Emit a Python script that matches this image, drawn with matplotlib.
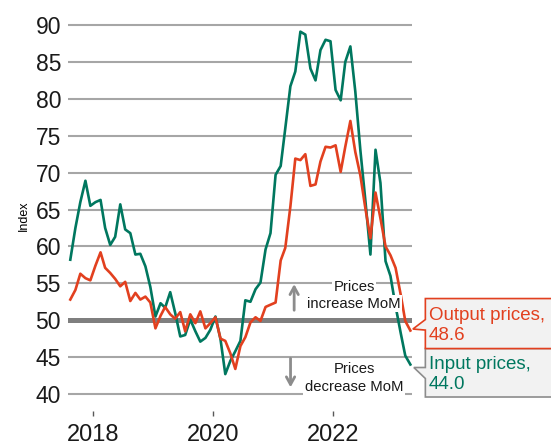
import matplotlib
matplotlib.use("Agg")
import matplotlib.pyplot as plt
import matplotlib.transforms as mtransforms
from matplotlib.patches import Polygon
import pandas as pd

plt.rcParams['font.family'] = ['Liberation Sans', 'DejaVu Sans']

# monthly index readings, Aug 2017 - Apr 2023
months = pd.date_range('2017-08-01', periods=69, freq='MS') + pd.Timedelta(days=14)
input_prices = [58.2, 62.5, 66.0, 68.9, 65.5, 66.0, 66.3, 62.5, 60.2, 61.3,
                65.7, 62.3, 61.8, 58.9, 59.0, 57.3, 54.5, 50.5, 52.3, 51.7,
                53.8, 51.0, 47.8, 48.0, 50.1, 48.5, 47.1, 47.6, 48.7, 50.5,
                47.4, 42.7, 44.5, 45.8, 47.2, 52.7, 52.5, 54.2, 55.1, 59.6,
                61.8, 69.7, 70.9, 76.0, 81.7, 83.7, 89.1, 88.7, 84.1, 82.5,
                86.6, 88.0, 87.8, 81.2, 79.8, 85.0, 87.1, 81.0, 73.0, 66.3,
                58.9, 73.1, 68.6, 58.0, 56.0, 51.9, 48.3, 45.2, 44.0]
output_prices = [52.8, 54.1, 56.3, 55.7, 55.4, 57.4, 59.2, 57.1, 56.4, 55.6,
                 54.6, 55.2, 52.6, 53.7, 52.8, 53.2, 52.4, 48.9, 50.6, 51.8,
                 50.8, 50.2, 51.1, 48.5, 50.8, 49.6, 51.2, 48.9, 49.6, 50.4,
                 47.5, 47.2, 45.5, 43.4, 46.5, 47.7, 49.7, 50.4, 49.9, 51.8,
                 52.1, 52.4, 58.1, 59.8, 65.4, 71.9, 71.7, 72.5, 68.2, 68.4,
                 71.5, 73.5, 73.4, 73.7, 70.1, 73.5, 77.0, 72.8, 69.6, 65.2,
                 61.1, 67.3, 63.8, 60.0, 58.8, 57.1, 53.5, 49.9, 48.6]
year_ticks = ['2018-01-01', '2020-01-01', '2022-01-01']
year_labels = ['2018', '2020', '2022']
y_ticks = list(range(40, 95, 5))

GREEN = '#00775f'
RED = '#e2401f'
GRID = '#a6a6a6'
ARROW = '#8c8c8c'

fig = plt.figure(figsize=(5.51, 4.41), dpi=100)
ax = fig.add_axes([68 / 551, 1 - 411 / 441, 344 / 551, 391 / 441])

for v in y_ticks:
    if v == 50:
        ax.axhline(v, color='#7f7f7f', lw=3.6, zorder=1)
    else:
        ax.axhline(v, color=GRID, lw=1.5, zorder=1)

ax.plot(months, input_prices, color=GREEN, lw=1.9, zorder=3)
ax.plot(months, output_prices, color=RED, lw=1.9, zorder=3)

ax.set_xlim(pd.Timestamp('2017-08-01'), pd.Timestamp('2023-04-25'))
ax.set_ylim(37.7, 90.68)
ax.set_yticks(y_ticks)
ax.set_xticks(pd.to_datetime(year_ticks))
ax.set_xticklabels(year_labels)
ax.tick_params(axis='y', length=0, pad=5, labelsize=16.5, labelcolor='#1a1a1a')
ax.tick_params(axis='x', length=3.6, width=1, color='#595959', pad=6,
               labelsize=17, labelcolor='#1a1a1a')
for s in ax.spines.values():
    s.set_visible(False)
ax.set_ylabel('Index', fontsize=9, labelpad=4)

# arrows + notes around the 50 line
up_x = pd.Timestamp('2021-05-08')
dn_x = pd.Timestamp('2021-04-16')
note_x = pd.Timestamp('2022-05-07')
aprops = dict(arrowstyle='->,head_length=0.55,head_width=0.3', color=ARROW, lw=2,
              shrinkA=0, shrinkB=0)
ax.annotate('', xy=(up_x, 54.9), xytext=(up_x, 51.35), arrowprops=aprops, zorder=4)
ax.annotate('', xy=(dn_x, 40.9), xytext=(dn_x, 44.85), arrowprops=aprops, zorder=4)
tb = dict(facecolor='white', edgecolor='none', pad=1)
for txt, yv in [('Prices', 53.97), ('increase MoM', 51.72),
                ('Prices', 42.82), ('decrease MoM', 40.38)]:
    ax.text(note_x, yv, txt, ha='center', va='baseline', fontsize=10.7,
            color='#1a1a1a', bbox=tb, zorder=4)

# callouts at the right
ident = mtransforms.IdentityTransform()
ex, ey = ax.transData.transform((matplotlib.dates.date2num(months[-1]), input_prices[-1]))
ox, oy = ax.transData.transform((matplotlib.dates.date2num(months[-1]), output_prices[-1]))
x1 = 700

tx, ty = ex + 3.5, ey - 3
x0 = tx + 11.5
inp = Polygon([(x0, ty + 19), (x1, ty + 19), (x1, ty - 29.5), (x0, ty - 29.5),
               (x0, ty - 11), (tx, ty), (x0, ty)], closed=True,
              facecolor='#f2f2f2', edgecolor='#8c8c8c', lw=1.2, transform=ident)
fig.add_artist(inp)
fig.text(x0 + 3.5, ty - 1.5, 'Input prices,', transform=ident, color=GREEN,
         fontsize=13.5, va='baseline')
fig.text(x0 + 3.5, ty - 21.5, f'{input_prices[-1]:.1f}', transform=ident, color=GREEN,
         fontsize=13.5, va='baseline')

tx, ty = ox + 2.5, oy + 1.5
x0 = tx + 12.5
outp = Polygon([(x0, ty + 30.5), (x1, ty + 30.5), (x1, ty - 19.5), (x0, ty - 19.5),
                (x0, ty - 1), (tx, ty), (x0, ty + 9.5)], closed=True,
               facecolor='#f2f2f2', edgecolor=RED, lw=1.2, transform=ident)
fig.add_artist(outp)
fig.text(x0 + 3.5, ty + 9.5, 'Output prices,', transform=ident, color=RED,
         fontsize=13.5, va='baseline')
fig.text(x0 + 3.5, ty - 10.5, f'{output_prices[-1]:.1f}', transform=ident, color=RED,
         fontsize=13.5, va='baseline')

fig.savefig('out.png', dpi=100)
